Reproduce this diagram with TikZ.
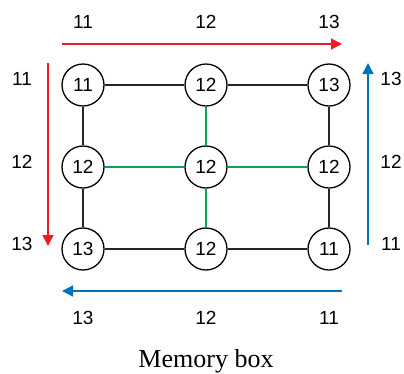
\documentclass[tikz,border=0pt]{standalone}
\usepackage{fontspec}
\setmainfont{Liberation Serif}
\setsansfont{Liberation Sans}
\usepackage{xcolor}
\usetikzlibrary{arrows.meta, positioning}
\definecolor{arrred}{RGB}{237,28,36}
\definecolor{arrblue}{RGB}{0,114,188}
\definecolor{linkgreen}{RGB}{0,166,81}

\begin{document}
\begin{tikzpicture}[
        x=1pt, y=-1pt,
        cell/.style={draw, circle, line width=1.3pt, minimum size=42pt, inner sep=0pt, outer sep=0.65pt, font=\sffamily\fontsize{19}{19}\selectfont},
        lbl/.style={font=\sffamily\fontsize{19}{19}\selectfont, inner sep=0pt},
        blink/.style={line width=2pt, black!85},
        glink/.style={line width=1.5pt, linkgreen},
        flow/.style={line width=1.5pt, -{Triangle[length=11pt, width=11pt]}}
    ]
        \useasboundingbox (0,0) rectangle (404,373);

        % grid of cells
        \node[cell] (c11) at (83,85) {11};
        \node[cell, right=79.7pt of c11] (c12) {12};
        \node[cell, right=79.7pt of c12] (c13) {13};
        \node[cell, below=38.7pt of c11] (c21) {12};
        \node[cell, right=79.7pt of c21] (c22) {12};
        \node[cell, right=79.7pt of c22] (c23) {12};
        \node[cell, below=38.7pt of c21] (c31) {13};
        \node[cell, right=79.7pt of c31] (c32) {12};
        \node[cell, right=79.7pt of c32] (c33) {11};

        \draw[blink] (c11) -- (c12);
        \draw[blink] (c12) -- (c13);
        \draw[blink] (c31) -- (c32);
        \draw[blink] (c32) -- (c33);
        \draw[blink] (c11) -- (c21);
        \draw[blink] (c21) -- (c31);
        \draw[blink] (c13) -- (c23);
        \draw[blink] (c23) -- (c33);
        \draw[glink] (c12) -- (c22);
        \draw[glink] (c22) -- (c32);
        \draw[glink] (c21) -- (c22);
        \draw[glink] (c22) -- (c23);

        % labels round the grid
        \node[lbl] (top1) at (83,22) {11};
        \node[lbl] (top2) at (206,22) {12};
        \node[lbl] (top3) at (329,22) {13};
        \node[lbl] (lft1) at (22,79) {11};
        \node[lbl] (lft2) at (22,162) {12};
        \node[lbl] (lft3) at (22,244) {13};
        \node[lbl] (rgt1) at (391,79) {13};
        \node[lbl] (rgt2) at (391,162) {12};
        \node[lbl] (rgt3) at (391,244) {11};
        \node[lbl] (bot1) at (83,318) {13};
        \node[lbl] (bot2) at (206,318) {12};
        \node[lbl] (bot3) at (329,318) {11};

        % direction arrows
        \coordinate (ta) at (62,44);
        \coordinate (tb) at (342,44);
        \coordinate (la) at (48,63);
        \coordinate (lb) at (48,246);
        \coordinate (ra) at (368,245);
        \coordinate (rb) at (368,63);
        \coordinate (ba) at (342,291);
        \coordinate (bb) at (62,291);
        \draw[flow, arrred] (ta) -- (tb);
        \draw[flow, arrred] (la) -- (lb);
        \draw[flow, arrblue] (ra) -- (rb);
        \draw[flow, arrblue] (ba) -- (bb);

        \node[font=\fontsize{26}{26}\selectfont, anchor=base] (cap) at (206,367) {Memory box};
    \end{tikzpicture}
\end{document}
